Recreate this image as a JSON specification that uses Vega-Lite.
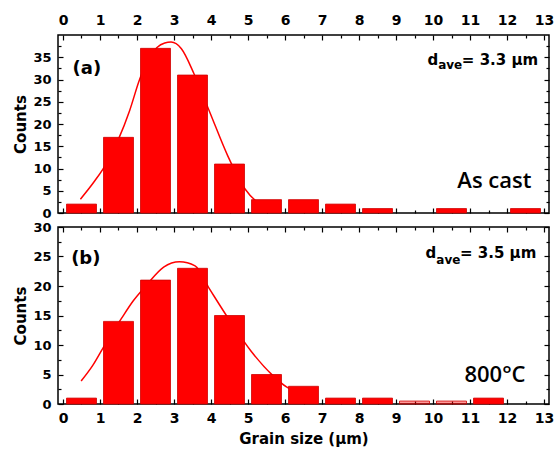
{
  "$schema": "https://vega.github.io/schema/vega-lite/v6.json",
  "padding": {"left": 12, "top": 10, "right": 6, "bottom": 2},
  "spacing": 14,
  "bounds": "flush",
  "config": {
    "font": "DejaVu Sans",
    "view": {"stroke": "black", "strokeWidth": 1.5},
    "axis": {
      "labelFont": "DejaVu Sans", "labelFontWeight": "bold", "labelFontSize": 14, "labelColor": "black",
      "titleFont": "DejaVu Sans", "titleFontWeight": "bold", "titleFontSize": 15, "titleColor": "black",
      "domain": false, "grid": false, "tickColor": "black", "tickWidth": 1.2, "labelOverlap": false
    },
    "axisY": {"labelFontSize": 13}
  },
  "vconcat": [
    {
      "width": 491, "height": 178,
      "resolve": {"axis": {"x": "independent", "y": "independent"}},
      "layer": [
        {
          "data": {"values": [
            {"size": 0.47, "count": 3.1}, {"size": 0.83, "count": 6.9}, {"size": 1.2, "count": 11.5},
            {"size": 1.5, "count": 16.6}, {"size": 1.8, "count": 23}, {"size": 2.07, "count": 30},
            {"size": 2.3, "count": 34.5}, {"size": 2.54, "count": 37.2}, {"size": 2.75, "count": 38.2},
            {"size": 2.92, "count": 38.4}, {"size": 3.2, "count": 36.9}, {"size": 3.54, "count": 31.3},
            {"size": 3.97, "count": 22.6}, {"size": 4.45, "count": 12.9}, {"size": 4.92, "count": 5.4},
            {"size": 5.2, "count": 2.8}, {"size": 5.5, "count": 1.5}
          ]},
          "mark": {"type": "line", "color": "#ff0000", "strokeWidth": 1.5, "interpolate": "monotone"},
          "encoding": {
            "x": {"field": "size", "type": "quantitative", "scale": {"domain": [0, 13], "nice": false, "zero": false},
              "axis": {"orient": "bottom", "values": [0,0.5,1,1.5,2,2.5,3,3.5,4,4.5,5,5.5,6,6.5,7,7.5,8,8.5,9,9.5,10,10.5,11,11.5,12,12.5,13],
                "labels": false, "title": null, "minExtent": 0, "maxExtent": 0, "labelPadding": 0,
                "tickSize": {"condition": {"test": "datum.value % 1 === 0", "value": -5}, "value": -3}}},
            "y": {"field": "count", "type": "quantitative", "scale": {"domain": [0, 40], "nice": false},
              "axis": {"orient": "right", "values": [0,2.5,5,7.5,10,12.5,15,17.5,20,22.5,25,27.5,30,32.5,35,37.5],
                "labels": false, "title": null, "minExtent": 0, "maxExtent": 0, "labelPadding": 0,
                "tickSize": {"condition": {"test": "datum.value % 5 === 0", "value": -5}, "value": -3}}}
          }
        },
        {
          "data": {"values": [
            {"size": 0.5, "count": 2}, {"size": 1.5, "count": 17}, {"size": 2.5, "count": 37},
            {"size": 3.5, "count": 31}, {"size": 4.5, "count": 11}, {"size": 5.5, "count": 3},
            {"size": 6.5, "count": 3}, {"size": 7.5, "count": 2}, {"size": 8.5, "count": 1},
            {"size": 10.5, "count": 1}, {"size": 12.5, "count": 1}
          ]},
          "mark": {"type": "bar", "color": "#ff0000", "width": 30, "stroke": "#d00000", "strokeWidth": 0.8},
          "encoding": {
            "x": {"field": "size", "type": "quantitative", "scale": {"domain": [0, 13], "nice": false, "zero": false},
              "axis": {"orient": "top", "values": [0,0.5,1,1.5,2,2.5,3,3.5,4,4.5,5,5.5,6,6.5,7,7.5,8,8.5,9,9.5,10,10.5,11,11.5,12,12.5,13],
                "labelExpr": "datum.value % 1 === 0 ? '' + datum.value : ''", "title": null, "labelPadding": 13,
                "tickSize": {"condition": {"test": "datum.value % 1 === 0", "value": -5}, "value": -3}}},
            "y": {"field": "count", "type": "quantitative", "scale": {"domain": [0, 40], "nice": false},
              "axis": {"orient": "left", "values": [0,2.5,5,7.5,10,12.5,15,17.5,20,22.5,25,27.5,30,32.5,35,37.5],
                "labelExpr": "datum.value % 5 === 0 ? '' + datum.value : ''", "title": "Counts", "labelPadding": 12, "titlePadding": 5,
                "minExtent": 25, "maxExtent": 25,
                "tickSize": {"condition": {"test": "datum.value % 5 === 0", "value": -5}, "value": -3}}}
          }
        },
        {
          "data": {"values": [{"x": 0.26, "y": 31.2, "t": "(a)"}]},
          "mark": {"type": "text", "align": "left", "baseline": "alphabetic", "font": "DejaVu Sans", "fontWeight": "bold", "fontSize": 18, "color": "black"},
          "encoding": {
            "x": {"field": "x", "type": "quantitative", "axis": null},
            "y": {"field": "y", "type": "quantitative", "axis": null},
            "text": {"field": "t"}
          }
        },
        {
          "data": {"values": [{"x": 12.66, "y": 5.6, "t": "As cast"}]},
          "mark": {"type": "text", "align": "right", "baseline": "alphabetic", "font": "Open Sans", "fontWeight": 600, "fontSize": 22, "color": "black"},
          "encoding": {
            "x": {"field": "x", "type": "quantitative", "axis": null},
            "y": {"field": "y", "type": "quantitative", "axis": null},
            "text": {"field": "t"}
          }
        },
        {
          "data": {"values": [{"x": 9.85, "y": 33.26, "t": "d"}, {"x": 10.78, "y": 33.26, "t": "= 3.3 µm"}]},
          "mark": {"type": "text", "align": "left", "baseline": "alphabetic", "font": "DejaVu Sans", "fontWeight": "bold", "fontSize": 15, "color": "black"},
          "encoding": {
            "x": {"field": "x", "type": "quantitative", "axis": null},
            "y": {"field": "y", "type": "quantitative", "axis": null},
            "text": {"field": "t"}
          }
        },
        {
          "data": {"values": [{"x": 10.14, "y": 32.36, "t": "ave"}]},
          "mark": {"type": "text", "align": "left", "baseline": "alphabetic", "font": "DejaVu Sans", "fontWeight": "bold", "fontSize": 12, "color": "black"},
          "encoding": {
            "x": {"field": "x", "type": "quantitative", "axis": null},
            "y": {"field": "y", "type": "quantitative", "axis": null},
            "text": {"field": "t"}
          }
        }
      ]
    },
    {
      "width": 491, "height": 177,
      "resolve": {"axis": {"x": "independent", "y": "independent"}},
      "layer": [
        {
          "data": {"values": [
            {"size": 0.49, "count": 3.9}, {"size": 0.8, "count": 6.5}, {"size": 1.1, "count": 9.7},
            {"size": 1.58, "count": 14.5}, {"size": 1.9, "count": 17.5}, {"size": 2.25, "count": 20.1},
            {"size": 2.72, "count": 23.2}, {"size": 3.15, "count": 24.1}, {"size": 3.57, "count": 23.4},
            {"size": 3.95, "count": 19.6}, {"size": 4.52, "count": 14}, {"size": 5.09, "count": 8.9},
            {"size": 5.66, "count": 4.9}, {"size": 6.04, "count": 2.9}, {"size": 6.4, "count": 1.9}
          ]},
          "mark": {"type": "line", "color": "#ff0000", "strokeWidth": 1.5, "interpolate": "monotone"},
          "encoding": {
            "x": {"field": "size", "type": "quantitative", "scale": {"domain": [0, 13], "nice": false, "zero": false},
              "axis": {"orient": "top", "values": [0,0.5,1,1.5,2,2.5,3,3.5,4,4.5,5,5.5,6,6.5,7,7.5,8,8.5,9,9.5,10,10.5,11,11.5,12,12.5,13],
                "labels": false, "title": null, "minExtent": 0, "maxExtent": 0, "labelPadding": 0,
                "tickSize": {"condition": {"test": "datum.value % 1 === 0", "value": -5}, "value": -3}}},
            "y": {"field": "count", "type": "quantitative", "scale": {"domain": [0, 30], "nice": false},
              "axis": {"orient": "right", "values": [0,2.5,5,7.5,10,12.5,15,17.5,20,22.5,25,27.5,30],
                "labels": false, "title": null, "minExtent": 0, "maxExtent": 0, "labelPadding": 0,
                "tickSize": {"condition": {"test": "datum.value % 5 === 0", "value": -5}, "value": -3}}}
          }
        },
        {
          "data": {"values": [
            {"size": 0.5, "count": 1}, {"size": 1.5, "count": 14}, {"size": 2.5, "count": 21},
            {"size": 3.5, "count": 23}, {"size": 4.5, "count": 15}, {"size": 5.5, "count": 5},
            {"size": 6.5, "count": 3}, {"size": 7.5, "count": 1}, {"size": 8.5, "count": 1},
            {"size": 9.5, "count": 0.5}, {"size": 10.5, "count": 0.5}, {"size": 11.5, "count": 1}
          ]},
          "mark": {"type": "bar", "color": "#ff0000", "width": 30, "stroke": "#d00000", "strokeWidth": 0.8},
          "encoding": {
            "x": {"field": "size", "type": "quantitative", "scale": {"domain": [0, 13], "nice": false, "zero": false},
              "axis": {"orient": "bottom", "values": [0,0.5,1,1.5,2,2.5,3,3.5,4,4.5,5,5.5,6,6.5,7,7.5,8,8.5,9,9.5,10,10.5,11,11.5,12,12.5,13],
                "labelExpr": "datum.value % 1 === 0 ? '' + datum.value : ''", "title": "Grain size (µm)", "labelPadding": 12, "titlePadding": 4,
                "tickSize": {"condition": {"test": "datum.value % 1 === 0", "value": -5}, "value": -3}}},
            "y": {"field": "count", "type": "quantitative", "scale": {"domain": [0, 30], "nice": false},
              "axis": {"orient": "left", "values": [0,2.5,5,7.5,10,12.5,15,17.5,20,22.5,25,27.5,30],
                "labelExpr": "datum.value % 5 === 0 ? '' + datum.value : ''", "title": "Counts", "labelPadding": 12, "titlePadding": 5,
                "minExtent": 25, "maxExtent": 25,
                "tickSize": {"condition": {"test": "datum.value % 5 === 0", "value": -5}, "value": -3}}},
            "fillOpacity": {"condition": {"test": "datum.count < 1", "value": 0.4}, "value": 1}
          }
        },
        {
          "data": {"values": [{"x": 0.22, "y": 23.7, "t": "(b)"}]},
          "mark": {"type": "text", "align": "left", "baseline": "alphabetic", "font": "DejaVu Sans", "fontWeight": "bold", "fontSize": 18, "color": "black"},
          "encoding": {
            "x": {"field": "x", "type": "quantitative", "axis": null},
            "y": {"field": "y", "type": "quantitative", "axis": null},
            "text": {"field": "t"}
          }
        },
        {
          "data": {"values": [{"x": 12.5, "y": 3.7, "t": "800°C"}]},
          "mark": {"type": "text", "align": "right", "baseline": "alphabetic", "font": "Open Sans", "fontWeight": 600, "fontSize": 22, "color": "black"},
          "encoding": {
            "x": {"field": "x", "type": "quantitative", "axis": null},
            "y": {"field": "y", "type": "quantitative", "axis": null},
            "text": {"field": "t"}
          }
        },
        {
          "data": {"values": [{"x": 9.8, "y": 24.75, "t": "d"}, {"x": 10.73, "y": 24.75, "t": "= 3.5 µm"}]},
          "mark": {"type": "text", "align": "left", "baseline": "alphabetic", "font": "DejaVu Sans", "fontWeight": "bold", "fontSize": 15, "color": "black"},
          "encoding": {
            "x": {"field": "x", "type": "quantitative", "axis": null},
            "y": {"field": "y", "type": "quantitative", "axis": null},
            "text": {"field": "t"}
          }
        },
        {
          "data": {"values": [{"x": 10.09, "y": 23.73, "t": "ave"}]},
          "mark": {"type": "text", "align": "left", "baseline": "alphabetic", "font": "DejaVu Sans", "fontWeight": "bold", "fontSize": 12, "color": "black"},
          "encoding": {
            "x": {"field": "x", "type": "quantitative", "axis": null},
            "y": {"field": "y", "type": "quantitative", "axis": null},
            "text": {"field": "t"}
          }
        }
      ]
    }
  ]
}
